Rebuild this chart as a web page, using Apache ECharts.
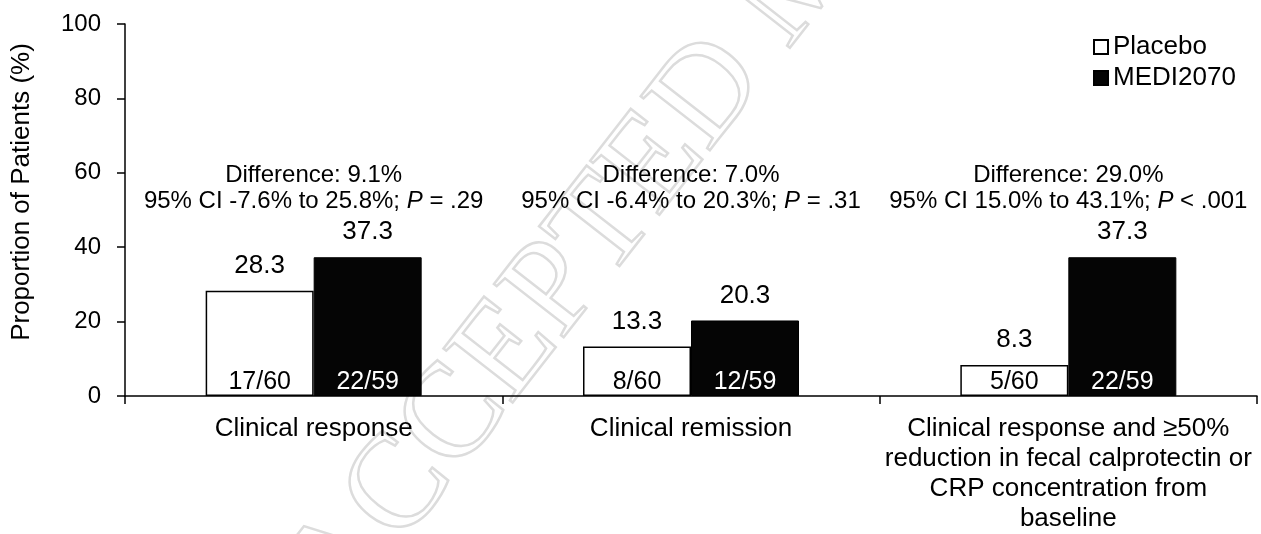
<!DOCTYPE html>
<html>
<head>
<meta charset="utf-8">
<script src="https://cdn.jsdelivr.net/npm/echarts@6/dist/echarts.min.js"></script>
<style>
  html, body { margin: 0; padding: 0; background: #fff; }
  #main { width: 1261px; height: 534px; }
</style>
</head>
<body>
<div id="main"></div>
<script>
// categories and values
var categories = [
    'Clinical response',
    'Clinical remission',
    'Clinical response and \u226550%\nreduction in fecal calprotectin or\nCRP concentration from\nbaseline'
];
var placebo = [28.3, 13.3, 8.3];
var medi = [37.3, 20.3, 37.3];
var placeboN = ['17/60', '8/60', '5/60'];
var mediN = ['22/59', '12/59', '22/59'];
var diffText = ['9.1%', '7.0%', '29.0%'];
var ciText = ['-7.6% to 25.8%', '-6.4% to 20.3%', '15.0% to 43.1%'];
var pText = ['= .29', '= .31', '< .001'];
var yTicks = [0, 20, 40, 60, 80, 100];

var FONT = 'Liberation Sans, Arial, sans-serif';
var annoLevel = 55.8; // middle of the two annotation lines, in axis units

var zeros = categories.map(function () { return 0; });

var option = {
    animation: false,
    backgroundColor: '#fff',
    textStyle: { fontFamily: FONT, color: '#000' },
    grid: { left: 125, right: 4, top: 24, bottom: 137 },
    legend: {
        data: ['Placebo', 'MEDI2070'],
        orient: 'vertical',
        left: 1088,
        top: 29,
        itemWidth: 14,
        itemHeight: 14,
        itemGap: 5,
        icon: 'rect',
        textStyle: { fontSize: 26, color: '#000', fontFamily: FONT }
    },
    xAxis: {
        type: 'category',
        data: categories,
        axisLine: { lineStyle: { color: '#000', width: 1.5 } },
        axisTick: { show: true, length: 8, lineStyle: { color: '#000', width: 1.5 } },
        axisLabel: { fontSize: 26, color: '#000', margin: 18, lineHeight: 30, interval: 0, fontFamily: FONT }
    },
    yAxis: {
        type: 'value',
        min: yTicks[0],
        max: yTicks[yTicks.length - 1],
        interval: 20,
        name: 'Proportion of Patients (%)',
        nameLocation: 'middle',
        nameGap: 90,
        nameTextStyle: { fontSize: 26, color: '#000', fontFamily: FONT, padding: [0, 0, 0, 36] },
        axisLine: { show: true, lineStyle: { color: '#000', width: 1.5 } },
        axisTick: { show: true, length: 8, lineStyle: { color: '#000', width: 1.5 } },
        axisLabel: { fontSize: 24, color: '#000', margin: 24, fontFamily: FONT },
        splitLine: { show: false }
    },
    graphic: [{
        // faint "accepted manuscript" watermark
        type: 'text',
        silent: true,
        z: -10,
        x: 313,
        y: 601,
        rotation: 52 * Math.PI / 180,
        style: {
            text: 'ACCEPTED MANUSCRIPT',
            font: '134px "Liberation Serif", serif',
            fill: 'transparent',
            stroke: '#dcdcdc',
            lineWidth: 2.5,
            align: 'left',
            verticalAlign: 'middle'
        }
    }],
    series: [
        {
            name: 'placeboN',
            type: 'bar',
            stack: 'p',
            barWidth: 108,
            barGap: '0%',
            data: zeros,
            itemStyle: { color: 'transparent' },
            label: {
                show: true, position: 'top', distance: 1,
                fontSize: 25, color: '#000', fontFamily: FONT,
                formatter: function (p) { return placeboN[p.dataIndex]; }
            },
            z: 3
        },
        {
            name: 'Placebo',
            type: 'bar',
            stack: 'p',
            barWidth: 108,
            barGap: '0%',
            data: placebo,
            itemStyle: { color: '#fff', borderColor: '#000', borderWidth: 1.5 },
            label: {
                show: true, position: 'top', distance: 12,
                fontSize: 26, color: '#000', fontFamily: FONT
            }
        },
        {
            name: 'mediN',
            type: 'bar',
            stack: 'm',
            barWidth: 108,
            barGap: '0%',
            data: zeros,
            itemStyle: { color: 'transparent' },
            label: {
                show: true, position: 'top', distance: 1,
                fontSize: 25, color: '#fff', fontFamily: FONT,
                formatter: function (p) { return mediN[p.dataIndex]; }
            },
            z: 3
        },
        {
            name: 'MEDI2070',
            type: 'bar',
            stack: 'm',
            barWidth: 108,
            barGap: '0%',
            data: medi,
            itemStyle: { color: '#050505', borderColor: '#000', borderWidth: 1 },
            label: {
                show: true, position: 'top', distance: 12,
                fontSize: 26, color: '#000', fontFamily: FONT
            }
        },
        {
            // difference / CI annotations above each group
            name: 'diff',
            type: 'scatter',
            symbolSize: 0,
            itemStyle: { opacity: 1 },
            data: categories.map(function (c, i) { return [i, annoLevel]; }),
            label: {
                show: true,
                position: 'inside',
                fontSize: 24,
                lineHeight: 26,
                color: '#000',
                opacity: 1,
                fontFamily: FONT,
                formatter: function (p) {
                    var i = p.dataIndex;
                    return 'Difference: ' + diffText[i] + '\n95% CI ' + ciText[i] + '; {i|P} ' + pText[i];
                },
                rich: {
                    i: { fontStyle: 'italic', fontSize: 24, color: '#000', fontFamily: FONT }
                }
            },
            z: 4
        }
    ]
};

var myChart = echarts.init(document.getElementById('main'));
myChart.setOption(option);
</script>
</body>
</html>
